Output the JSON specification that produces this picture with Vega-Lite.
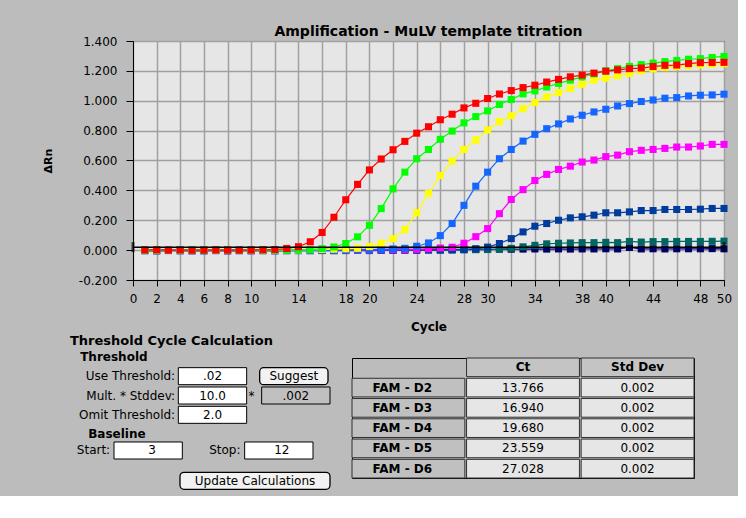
{
  "$schema": "https://vega.github.io/schema/vega-lite/v6.json",
  "background": "#bcbcbc",
  "padding": {"left": 41, "top": 24, "right": 5, "bottom": 5},
  "bounds": "flush",
  "spacing": 78,
  "datasets": {
    "amp": [
      {"cycle":1,"D2":0.001,"D3":-0.002,"D4":0,"D5":-0.003,"D6":-0.002,"D7":-0.004,"D8":0,"D9":0.002},
      {"cycle":2,"D2":0.002,"D3":0,"D4":-0.001,"D5":-0.004,"D6":-0.003,"D7":-0.005,"D8":-0.001,"D9":0.001},
      {"cycle":3,"D2":0,"D3":-0.001,"D4":0.001,"D5":-0.002,"D6":-0.001,"D7":-0.003,"D8":0,"D9":0.003},
      {"cycle":4,"D2":0.001,"D3":0.001,"D4":0,"D5":-0.004,"D6":-0.002,"D7":-0.004,"D8":0.001,"D9":0.002},
      {"cycle":5,"D2":-0.001,"D3":0,"D4":-0.001,"D5":-0.003,"D6":-0.003,"D7":-0.005,"D8":-0.001,"D9":0.001},
      {"cycle":6,"D2":0,"D3":-0.002,"D4":0.001,"D5":-0.005,"D6":-0.002,"D7":-0.004,"D8":0,"D9":0.002},
      {"cycle":7,"D2":0.001,"D3":0.001,"D4":0,"D5":-0.003,"D6":-0.001,"D7":-0.003,"D8":0,"D9":0.003},
      {"cycle":8,"D2":0,"D3":0,"D4":0,"D5":-0.004,"D6":-0.003,"D7":-0.005,"D8":-0.001,"D9":0.002},
      {"cycle":9,"D2":0,"D3":-0.001,"D4":-0.001,"D5":-0.002,"D6":-0.002,"D7":-0.004,"D8":0.001,"D9":0.001},
      {"cycle":10,"D2":0.001,"D3":0,"D4":0.001,"D5":-0.003,"D6":-0.004,"D7":-0.004,"D8":0,"D9":0.002},
      {"cycle":11,"D2":0.002,"D3":0.001,"D4":0,"D5":-0.004,"D6":-0.002,"D7":-0.003,"D8":-0.001,"D9":0.003},
      {"cycle":12,"D2":0.004,"D3":0,"D4":0.001,"D5":-0.003,"D6":-0.001,"D7":-0.005,"D8":0,"D9":0.002},
      {"cycle":13,"D2":0.011,"D3":0.001,"D4":0.002,"D5":-0.002,"D6":-0.002,"D7":-0.004,"D8":0.001,"D9":0.003},
      {"cycle":14,"D2":0.023,"D3":0.002,"D4":0.001,"D5":-0.003,"D6":-0.001,"D7":-0.003,"D8":0,"D9":0.004},
      {"cycle":15,"D2":0.056,"D3":0.004,"D4":0.003,"D5":-0.002,"D6":0,"D7":-0.004,"D8":0,"D9":0.003},
      {"cycle":16,"D2":0.118,"D3":0.010,"D4":0.004,"D5":-0.001,"D6":-0.001,"D7":-0.003,"D8":-0.001,"D9":0.004},
      {"cycle":17,"D2":0.220,"D3":0.021,"D4":0.006,"D5":-0.002,"D6":0,"D7":-0.004,"D8":0,"D9":0.003},
      {"cycle":18,"D2":0.337,"D3":0.044,"D4":0.009,"D5":0,"D6":0.001,"D7":-0.003,"D8":0.001,"D9":0.004},
      {"cycle":19,"D2":0.440,"D3":0.089,"D4":0.012,"D5":0.001,"D6":0,"D7":-0.002,"D8":0,"D9":0.005},
      {"cycle":20,"D2":0.537,"D3":0.166,"D4":0.024,"D5":0.003,"D6":0.001,"D7":-0.003,"D8":0,"D9":0.004},
      {"cycle":21,"D2":0.610,"D3":0.278,"D4":0.046,"D5":0.004,"D6":0.002,"D7":-0.002,"D8":0.001,"D9":0.005},
      {"cycle":22,"D2":0.672,"D3":0.410,"D4":0.077,"D5":0.008,"D6":0.002,"D7":-0.002,"D8":0,"D9":0.004},
      {"cycle":23,"D2":0.728,"D3":0.522,"D4":0.138,"D5":0.012,"D6":0.003,"D7":-0.001,"D8":0.001,"D9":0.005},
      {"cycle":24,"D2":0.783,"D3":0.612,"D4":0.250,"D5":0.026,"D6":0.005,"D7":-0.001,"D8":0.001,"D9":0.006},
      {"cycle":25,"D2":0.826,"D3":0.674,"D4":0.380,"D5":0.048,"D6":0.009,"D7":0,"D8":0.002,"D9":0.005},
      {"cycle":26,"D2":0.873,"D3":0.742,"D4":0.500,"D5":0.097,"D6":0.014,"D7":0,"D8":0.001,"D9":0.006},
      {"cycle":27,"D2":0.910,"D3":0.797,"D4":0.596,"D5":0.178,"D6":0.019,"D7":0.001,"D8":0.002,"D9":0.005},
      {"cycle":28,"D2":0.952,"D3":0.852,"D4":0.674,"D5":0.300,"D6":0.046,"D7":0.003,"D8":0.003,"D9":0.006},
      {"cycle":29,"D2":0.983,"D3":0.894,"D4":0.737,"D5":0.428,"D6":0.090,"D7":0.008,"D8":0.003,"D9":0.007},
      {"cycle":30,"D2":1.015,"D3":0.932,"D4":0.804,"D5":0.522,"D6":0.144,"D7":0.020,"D8":0.004,"D9":0.006},
      {"cycle":31,"D2":1.045,"D3":0.975,"D4":0.860,"D5":0.612,"D6":0.244,"D7":0.044,"D8":0.006,"D9":0.007},
      {"cycle":32,"D2":1.068,"D3":1.008,"D4":0.900,"D5":0.674,"D6":0.339,"D7":0.077,"D8":0.012,"D9":0.006},
      {"cycle":33,"D2":1.088,"D3":1.046,"D4":0.947,"D5":0.730,"D6":0.405,"D7":0.122,"D8":0.022,"D9":0.007},
      {"cycle":34,"D2":1.104,"D3":1.066,"D4":0.988,"D5":0.775,"D6":0.466,"D7":0.160,"D8":0.032,"D9":0.008},
      {"cycle":35,"D2":1.125,"D3":1.092,"D4":1.026,"D5":0.813,"D6":0.507,"D7":0.178,"D8":0.042,"D9":0.007},
      {"cycle":36,"D2":1.143,"D3":1.116,"D4":1.055,"D5":0.845,"D6":0.540,"D7":0.200,"D8":0.046,"D9":0.008},
      {"cycle":37,"D2":1.160,"D3":1.138,"D4":1.082,"D5":0.878,"D6":0.562,"D7":0.216,"D8":0.048,"D9":0.007},
      {"cycle":38,"D2":1.172,"D3":1.160,"D4":1.110,"D5":0.903,"D6":0.590,"D7":0.223,"D8":0.050,"D9":0.008},
      {"cycle":39,"D2":1.185,"D3":1.180,"D4":1.138,"D5":0.925,"D6":0.603,"D7":0.234,"D8":0.050,"D9":0.008},
      {"cycle":40,"D2":1.198,"D3":1.200,"D4":1.151,"D5":0.943,"D6":0.626,"D7":0.250,"D8":0.052,"D9":0.009},
      {"cycle":41,"D2":1.207,"D3":1.215,"D4":1.167,"D5":0.965,"D6":0.636,"D7":0.250,"D8":0.050,"D9":0.008},
      {"cycle":42,"D2":1.215,"D3":1.230,"D4":1.183,"D5":0.981,"D6":0.659,"D7":0.256,"D8":0.058,"D9":0.018},
      {"cycle":43,"D2":1.219,"D3":1.242,"D4":1.200,"D5":0.995,"D6":0.668,"D7":0.265,"D8":0.054,"D9":0.008},
      {"cycle":44,"D2":1.229,"D3":1.252,"D4":1.213,"D5":1.005,"D6":0.674,"D7":0.265,"D8":0.057,"D9":0.009},
      {"cycle":45,"D2":1.237,"D3":1.262,"D4":1.222,"D5":1.017,"D6":0.681,"D7":0.272,"D8":0.057,"D9":0.008},
      {"cycle":46,"D2":1.239,"D3":1.270,"D4":1.228,"D5":1.021,"D6":0.690,"D7":0.272,"D8":0.058,"D9":0.009},
      {"cycle":47,"D2":1.249,"D3":1.278,"D4":1.234,"D5":1.032,"D6":0.690,"D7":0.272,"D8":0.058,"D9":0.009},
      {"cycle":48,"D2":1.255,"D3":1.282,"D4":1.240,"D5":1.037,"D6":0.697,"D7":0.274,"D8":0.058,"D9":0.009},
      {"cycle":49,"D2":1.256,"D3":1.290,"D4":1.244,"D5":1.039,"D6":0.708,"D7":0.279,"D8":0.059,"D9":0.010},
      {"cycle":50,"D2":1.257,"D3":1.297,"D4":1.248,"D5":1.044,"D6":0.708,"D7":0.279,"D8":0.060,"D9":0.009}
    ],
    "threshold": [
      {"cycle":0,"dRn":0.02},
      {"cycle":50,"dRn":0.02}
    ],
    "groups": [
      {"group":"Threshold"},
      {"group":"Baseline"}
    ],
    "thresholdFields": [
      {"setting":"Use Threshold:","value":".02"},
      {"setting":"Mult. * Stddev:","value":"10.0"},
      {"setting":"Omit Threshold:","value":"2.0"}
    ],
    "readout": [
      {"setting":"Mult. * Stddev:","value":".002"}
    ],
    "buttons": [
      {"setting":"Use Threshold:","button":"Suggest"},
      {"setting":"Update Calculations","button":"Update Calculations"}
    ],
    "baseline": [
      {"bound":"Start:","cycle":"3"},
      {"bound":"Stop:","cycle":"12"}
    ],
    "ctTable": [
      {"sample":"FAM - D2","Ct":"13.766","Std Dev":"0.002"},
      {"sample":"FAM - D3","Ct":"16.940","Std Dev":"0.002"},
      {"sample":"FAM - D4","Ct":"19.680","Std Dev":"0.002"},
      {"sample":"FAM - D5","Ct":"23.559","Std Dev":"0.002"},
      {"sample":"FAM - D6","Ct":"27.028","Std Dev":"0.002"}
    ]
  },
  "vconcat": [
    {
      "width": 591,
      "height": 239,
      "title": {"text": "Amplification - MuLV template titration", "fontSize": 14, "fontWeight": "bold", "color": "#000000", "offset": -4, "anchor": "middle"},
      "view": {"fill": "#e6e6e6", "stroke": "#000000", "strokeWidth": 1},
      "layer": [
        {
          "data": {"name": "amp"},
          "transform": [{"fold": ["D9","D8","D7","D6","D5","D4","D3","D2"], "as": ["well","dRn"]}],
          "encoding": {
            "x": {"field": "cycle", "type": "quantitative", "title": "Cycle",
                  "scale": {"domain": [0, 50], "nice": false, "zero": false},
                  "axis": {"values": [0,2,4,6,8,10,12,14,16,18,20,22,24,26,28,30,32,34,36,38,40,42,44,46,48,50],
                           "tickCount": 60,
                           "labelExpr": "indexof([0,2,4,6,8,10,14,18,20,24,28,30,34,38,40,44,48,50], datum.value) >= 0 ? datum.label : ''",
                           "labelOverlap": false, "labelFlush": false, "labelFontSize": 12, "labelPadding": 7,
                           "tickSize": 6, "grid": true, "gridColor": "#a0a0a0", "gridWidth": 1.5, "gridOpacity": 1,
                           "titleFontSize": 12, "titleFontWeight": "bold", "titlePadding": 17}},
            "y": {"field": "dRn", "type": "quantitative", "title": "ΔRn",
                  "scale": {"domain": [-0.2, 1.4], "nice": false, "zero": false},
                  "axis": {"values": [-0.2,0,0.2,0.4,0.6,0.8,1,1.2,1.4], "format": ".3f", "tickCount": 20,
                           "labelOverlap": false, "labelFontSize": 12, "labelPadding": 9, "tickSize": 7,
                           "grid": true, "gridColor": "#a0a0a0", "gridWidth": 1.5, "gridOpacity": 1,
                           "titleFontSize": 11, "titleFontWeight": "bold", "titlePadding": 25}},
            "color": {"field": "well", "type": "nominal",
                      "scale": {"domain": ["D2","D3","D4","D5","D6","D7","D8","D9"],
                                "range": ["#ff0000","#00ff00","#ffff00","#1466ff","#ff00ff","#003c9c","#00665f","#000066"]},
                      "legend": null}
          },
          "layer": [
            {"mark": {"type": "line", "strokeWidth": 1.2}},
            {"mark": {"type": "point", "shape": "square", "filled": true, "size": 50, "opacity": 1},
             "encoding": {"order": {"field": "well", "sort": "descending"}}}
          ]
        },
        {
          "data": {"name": "threshold"},
          "encoding": {
            "x": {"field": "cycle", "type": "quantitative", "title": "Cycle", "scale": {"domain": [0, 50], "nice": false, "zero": false}},
            "y": {"field": "dRn", "type": "quantitative", "title": "ΔRn", "scale": {"domain": [-0.2, 1.4], "nice": false, "zero": false}}
          },
          "layer": [
            {"mark": {"type": "line", "color": "#000000", "strokeWidth": 1.5}},
            {"mark": {"type": "tick", "orient": "vertical", "color": "#000000", "thickness": 3, "size": 10}}
          ]
        }
      ]
    },
    {
      "bounds": "flush",
      "spacing": 14,
      "hconcat": [
        {
          "width": 205,
          "height": 133,
          "title": {"text": "Threshold Cycle Calculation", "anchor": "start", "frame": "group", "dx": -63, "offset": 3, "fontSize": 13, "fontWeight": "bold", "color": "#000000"},
          "view": {"stroke": null},
          "layer": [
            {
              "data": {"name": "thresholdFields"},
              "mark": {"type": "rect", "fill": "#ffffff", "stroke": "#000000", "strokeWidth": 1, "xOffset": -23, "x2Offset": -23},
              "encoding": {
                "x": {"datum": "field", "type": "nominal", "scale": {"type": "band", "domain": ["label","field","box"], "paddingInner": 0, "paddingOuter": 0}, "axis": null},
                "y": {"field": "setting", "type": "nominal", "scale": {"type": "band", "domain": ["Use Threshold:","Mult. * Stddev:","Omit Threshold:","Baseline","Start:","Update Calculations"], "paddingInner": 0.12, "paddingOuter": 0.5}, "axis": null}
              }
            },
            {
              "data": {"name": "thresholdFields"},
              "mark": {"type": "text", "dx": -23, "fontSize": 12},
              "encoding": {
                "x": {"datum": "field", "type": "nominal"},
                "y": {"field": "setting", "type": "nominal"},
                "text": {"field": "value"}
              }
            },
            {
              "data": {"name": "thresholdFields"},
              "mark": {"type": "text", "align": "right", "dx": 8, "fontSize": 12},
              "encoding": {
                "x": {"datum": "label", "type": "nominal"},
                "y": {"field": "setting", "type": "nominal"},
                "text": {"field": "setting"}
              }
            },
            {
              "data": {"name": "readout"},
              "mark": {"type": "rect", "fill": "#c0c0c0", "stroke": "#000000", "strokeWidth": 1, "xOffset": -8, "x2Offset": -8},
              "encoding": {
                "x": {"datum": "box", "type": "nominal"},
                "y": {"field": "setting", "type": "nominal"}
              }
            },
            {
              "data": {"name": "readout"},
              "mark": {"type": "text", "dx": -8, "fontSize": 12},
              "encoding": {
                "x": {"datum": "box", "type": "nominal"},
                "y": {"field": "setting", "type": "nominal"},
                "text": {"field": "value"}
              }
            },
            {
              "data": {"name": "readout"},
              "mark": {"type": "text", "dx": 16, "fontSize": 12, "text": "*"},
              "encoding": {
                "x": {"datum": "field", "type": "nominal"},
                "y": {"field": "setting", "type": "nominal"}
              }
            },
            {
              "data": {"name": "buttons"},
              "transform": [{"filter": "datum.button === 'Suggest'"}],
              "mark": {"type": "rect", "fill": "#f2f2f2", "stroke": "#000000", "strokeWidth": 1.3, "cornerRadius": 4, "xOffset": -10, "x2Offset": -10},
              "encoding": {
                "x": {"datum": "box", "type": "nominal"},
                "y": {"field": "setting", "type": "nominal"}
              }
            },
            {
              "data": {"name": "buttons"},
              "transform": [{"filter": "datum.button === 'Suggest'"}],
              "mark": {"type": "text", "dx": -10, "fontSize": 12},
              "encoding": {
                "x": {"datum": "box", "type": "nominal"},
                "y": {"field": "setting", "type": "nominal"},
                "text": {"field": "button"}
              }
            },
            {
              "data": {"name": "buttons"},
              "transform": [{"filter": "datum.button === 'Update Calculations'"}],
              "mark": {"type": "rect", "fill": "#f2f2f2", "stroke": "#000000", "strokeWidth": 1.3, "cornerRadius": 4, "width": 150, "xOffset": 19.5, "yOffset": 8, "y2Offset": 8},
              "encoding": {
                "x": {"datum": "field", "type": "nominal"},
                "y": {"field": "setting", "type": "nominal"}
              }
            },
            {
              "data": {"name": "buttons"},
              "transform": [{"filter": "datum.button === 'Update Calculations'"}],
              "mark": {"type": "text", "dx": 19.5, "dy": 8, "fontSize": 12},
              "encoding": {
                "x": {"datum": "field", "type": "nominal"},
                "y": {"field": "setting", "type": "nominal"},
                "text": {"field": "button"}
              }
            },
            {
              "data": {"name": "groups"},
              "transform": [{"filter": "datum.group === 'Threshold'"}],
              "mark": {"type": "text", "align": "left", "dx": -87, "dy": -19, "fontSize": 12, "fontWeight": "bold"},
              "encoding": {
                "x": {"datum": "label", "type": "nominal"},
                "y": {"datum": "Use Threshold:", "type": "nominal"},
                "text": {"field": "group"}
              }
            },
            {
              "data": {"name": "groups"},
              "transform": [{"filter": "datum.group === 'Baseline'"}],
              "mark": {"type": "text", "align": "left", "dx": -79, "fontSize": 12, "fontWeight": "bold"},
              "encoding": {
                "x": {"datum": "label", "type": "nominal"},
                "y": {"datum": "Baseline", "type": "nominal"},
                "text": {"field": "group"}
              }
            },
            {
              "data": {"name": "baseline"},
              "transform": [{"filter": "datum.bound === 'Start:'"}],
              "mark": {"type": "text", "align": "right", "dx": -57, "dy": -3, "fontSize": 12},
              "encoding": {
                "x": {"datum": "label", "type": "nominal"},
                "y": {"datum": "Start:", "type": "nominal"},
                "text": {"field": "bound"}
              }
            },
            {
              "data": {"name": "baseline"},
              "transform": [{"filter": "datum.bound === 'Start:'"}],
              "mark": {"type": "rect", "fill": "#ffffff", "stroke": "#000000", "strokeWidth": 1, "xOffset": -19, "x2Offset": -19, "yOffset": -3, "y2Offset": -3},
              "encoding": {
                "x": {"datum": "label", "type": "nominal"},
                "y": {"datum": "Start:", "type": "nominal"}
              }
            },
            {
              "data": {"name": "baseline"},
              "transform": [{"filter": "datum.bound === 'Start:'"}],
              "mark": {"type": "text", "dx": -15, "dy": -3, "fontSize": 12},
              "encoding": {
                "x": {"datum": "label", "type": "nominal"},
                "y": {"datum": "Start:", "type": "nominal"},
                "text": {"field": "cycle"}
              }
            },
            {
              "data": {"name": "baseline"},
              "transform": [{"filter": "datum.bound === 'Stop:'"}],
              "mark": {"type": "text", "align": "right", "dx": 5, "dy": -3, "fontSize": 12},
              "encoding": {
                "x": {"datum": "field", "type": "nominal"},
                "y": {"datum": "Start:", "type": "nominal"},
                "text": {"field": "bound"}
              }
            },
            {
              "data": {"name": "baseline"},
              "transform": [{"filter": "datum.bound === 'Stop:'"}],
              "mark": {"type": "rect", "fill": "#ffffff", "stroke": "#000000", "strokeWidth": 1, "xOffset": -25, "x2Offset": -25, "yOffset": -3, "y2Offset": -3},
              "encoding": {
                "x": {"datum": "box", "type": "nominal"},
                "y": {"datum": "Start:", "type": "nominal"}
              }
            },
            {
              "data": {"name": "baseline"},
              "transform": [{"filter": "datum.bound === 'Stop:'"}],
              "mark": {"type": "text", "dx": -22, "dy": -3, "fontSize": 12},
              "encoding": {
                "x": {"datum": "box", "type": "nominal"},
                "y": {"datum": "Start:", "type": "nominal"},
                "text": {"field": "cycle"}
              }
            }
          ]
        },
        {
          "width": 342,
          "height": 120,
          "view": {"stroke": "#000000", "strokeWidth": 1},
          "data": {"name": "ctTable"},
          "layer": [
            {
              "mark": {"type": "rect", "fill": "#c0c0c0", "stroke": "#303030", "strokeWidth": 1},
              "encoding": {
                "x": {"datum": "sample", "type": "nominal", "scale": {"type": "band", "domain": ["sample","Ct","Std Dev"], "paddingInner": 0.015, "paddingOuter": 0}, "axis": null},
                "y": {"field": "sample", "type": "nominal", "scale": {"type": "band", "domain": ["header","FAM - D2","FAM - D3","FAM - D4","FAM - D5","FAM - D6"], "paddingInner": 0.08, "paddingOuter": 0}, "axis": null}
              }
            },
            {
              "mark": {"type": "text", "align": "left", "dx": -36, "fontSize": 12, "fontWeight": "bold"},
              "encoding": {
                "x": {"datum": "sample", "type": "nominal"},
                "y": {"field": "sample", "type": "nominal"},
                "text": {"field": "sample"}
              }
            },
            {
              "transform": [{"fold": ["Ct", "Std Dev"], "as": ["column", "value"]}],
              "mark": {"type": "rect", "fill": "#e6e6e6", "stroke": "#303030", "strokeWidth": 1},
              "encoding": {
                "x": {"field": "column", "type": "nominal"},
                "y": {"field": "sample", "type": "nominal"}
              }
            },
            {
              "transform": [{"fold": ["Ct", "Std Dev"], "as": ["column", "value"]}],
              "mark": {"type": "text", "fontSize": 12},
              "encoding": {
                "x": {"field": "column", "type": "nominal"},
                "y": {"field": "sample", "type": "nominal"},
                "text": {"field": "value"}
              }
            },
            {
              "transform": [{"fold": ["Ct", "Std Dev"], "as": ["column", "value"]}, {"filter": "datum.sample === 'FAM - D2'"}],
              "mark": {"type": "rect", "fill": "#c4c4c4", "stroke": "#303030", "strokeWidth": 1},
              "encoding": {
                "x": {"field": "column", "type": "nominal"},
                "y": {"datum": "header", "type": "nominal"}
              }
            },
            {
              "transform": [{"fold": ["Ct", "Std Dev"], "as": ["column", "value"]}, {"filter": "datum.sample === 'FAM - D2'"}],
              "mark": {"type": "text", "fontSize": 12, "fontWeight": "bold"},
              "encoding": {
                "x": {"field": "column", "type": "nominal"},
                "y": {"datum": "header", "type": "nominal"},
                "text": {"field": "column"}
              }
            }
          ]
        }
      ]
    }
  ],
  "config": {
    "font": "DejaVu Sans",
    "locale": {"number": {"decimal": ".", "thousands": ",", "grouping": [3], "currency": ["$", ""], "minus": "-"}},
    "axis": {"labelColor": "#000000", "titleColor": "#000000", "tickColor": "#000000", "domainColor": "#000000", "labelFont": "DejaVu Sans", "titleFont": "DejaVu Sans"},
    "text": {"color": "#000000", "font": "DejaVu Sans"},
    "title": {"color": "#000000", "font": "DejaVu Sans"}
  }
}
